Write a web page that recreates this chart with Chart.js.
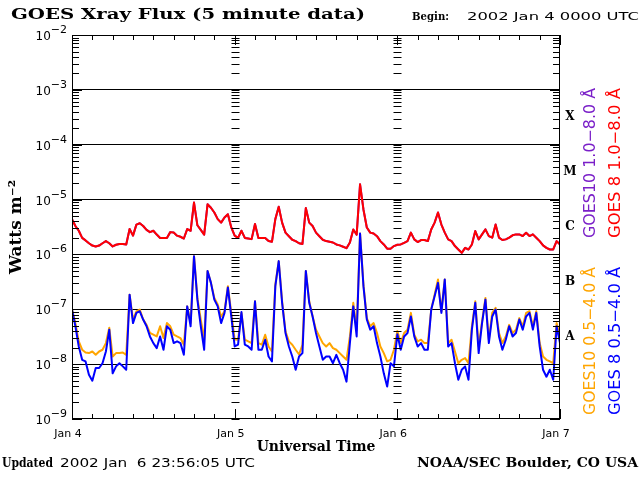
<!DOCTYPE html>
<html>
<head>
<meta charset="utf-8">
<script src="https://cdn.jsdelivr.net/npm/chart.js@4.4.1/dist/chart.umd.min.js"></script>
<style>
  html, body { margin: 0; padding: 0; background: #fff; }
  #wrap { position: relative; width: 640px; height: 480px; overflow: hidden; }
  #wrap canvas { position: absolute; left: 0; top: 0; }
  .txt { position: absolute; white-space: pre; color: #000; line-height: 1; transform-origin: 0 0; }
  .serif { font-family: "DejaVu Serif", serif; font-weight: bold; }
  .sans { font-family: "DejaVu Sans", sans-serif; }
</style>
</head>
<body>
<div id="wrap">
  <canvas id="xray" width="640" height="480"></canvas>
  <div class="txt serif" data-fit="354" style="left:11px; top:7px; font-size:15px;">GOES Xray Flux (5 minute data)</div>
  <div class="txt serif" data-fit="37" style="left:412px; top:11px; font-size:11px;">Begin:</div>
  <div class="txt sans" data-fit="172" style="left:467px; top:11px; font-size:11px;">2002 Jan 4 0000 UTC</div>
  <div class="txt serif" data-fit="51" style="left:2px; top:457px; font-size:12px;">Updated</div>
  <div class="txt sans" data-fit="195" style="left:60px; top:457px; font-size:12px;">2002 Jan  6 23:56:05 UTC</div>
  <div class="txt serif" data-fit="221" style="left:417px; top:457px; font-size:12px;">NOAA/SEC Boulder, CO USA</div>
</div>

<script>
// ---------------------------------------------------------
// Data: half-hourly readings (W m^-2) starting 2002 Jan 4 00 UTC
// ---------------------------------------------------------

const SAMPLE_STEP_HOURS = 0.5;

const dayLabels = ["Jan 4", "Jan 5", "Jan 6", "Jan 7"];
const decadeExponents = [-9, -8, -7, -6, -5, -4, -3, -2];
const flareClasses = ["A", "B", "C", "M", "X"];

// GOES 8, 1.0-8.0 A
const goes8Long = [
  4.4e-6, 3.3e-6, 2.7e-6, 2.0e-6, 1.8e-6, 1.6e-6, 1.45e-6, 1.4e-6, 1.45e-6, 1.6e-6, 1.75e-6, 1.6e-6,
  1.4e-6, 1.5e-6, 1.55e-6, 1.55e-6, 1.52e-6, 2.9e-6, 2.2e-6, 3.5e-6, 3.7e-6, 3.3e-6, 2.8e-6, 2.55e-6,
  2.7e-6, 2.3e-6, 2.0e-6, 2.0e-6, 2.0e-6, 2.55e-6, 2.5e-6, 2.2e-6, 2.1e-6, 1.95e-6, 2.9e-6, 2.7e-6,
  8.8e-6, 3.4e-6, 2.8e-6, 2.3e-6, 8.2e-6, 7.1e-6, 5.8e-6, 4.4e-6, 3.8e-6, 4.7e-6, 5.4e-6, 3.1e-6,
  2.2e-6, 2.0e-6, 2.7e-6, 2.0e-6, 1.95e-6, 1.9e-6, 3.6e-6, 2.0e-6, 2.0e-6, 2.0e-6, 1.75e-6, 1.7e-6,
  4.4e-6, 7.4e-6, 3.8e-6, 2.5e-6, 2.15e-6, 1.85e-6, 1.75e-6, 1.6e-6, 1.55e-6, 7.0e-6, 3.8e-6, 3.3e-6,
  2.5e-6, 2.15e-6, 1.85e-6, 1.75e-6, 1.7e-6, 1.65e-6, 1.52e-6, 1.46e-6, 1.38e-6, 1.3e-6, 1.65e-6, 2.85e-6,
  2.3e-6, 1.9e-5, 6.6e-6, 3.1e-6, 2.5e-6, 2.4e-6, 2.15e-6, 1.75e-6, 1.52e-6, 1.27e-6, 1.27e-6, 1.42e-6,
  1.5e-6, 1.52e-6, 1.63e-6, 1.75e-6, 2.5e-6, 1.88e-6, 1.68e-6, 1.83e-6, 1.83e-6, 1.75e-6, 2.85e-6, 3.8e-6,
  5.8e-6, 3.5e-6, 2.5e-6, 1.88e-6, 1.75e-6, 1.42e-6, 1.23e-6, 1.07e-6, 1.32e-6, 1.23e-6, 1.52e-6, 2.67e-6,
  1.88e-6, 2.32e-6, 2.86e-6, 2.16e-6, 2.02e-6, 3.5e-6, 2.02e-6, 1.83e-6, 1.88e-6, 2.02e-6, 2.23e-6, 2.32e-6,
  2.32e-6, 2.16e-6, 2.49e-6, 2.16e-6, 2.32e-6, 2.02e-6, 1.75e-6, 1.46e-6, 1.32e-6, 1.23e-6, 1.23e-6, 1.75e-6,
  1.52e-6,
];

// GOES10, 1.0-8.0 A - sits under the GOES 8 trace to within a pixel all along
const goes10Long = [...goes8Long];

// GOES 8, 0.5-4.0 A
const goes8Short = [
  9.9e-8, 4.9e-8, 2.1e-8, 1.2e-8, 1.12e-8, 6.4e-9, 5.0e-9, 8.5e-9, 8.5e-9, 1.04e-8, 1.7e-8, 4.25e-8,
  6.8e-9, 9.1e-9, 1.04e-8, 9.1e-9, 7.9e-9, 1.85e-7, 5.6e-8, 8.6e-8, 9.2e-8, 6.5e-8, 4.9e-8, 3.2e-8,
  2.42e-8, 1.96e-8, 3.2e-8, 1.83e-8, 4.9e-8, 4.25e-8, 2.42e-8, 2.6e-8, 2.42e-8, 1.48e-8, 1.13e-7, 4.9e-8,
  9.3e-7, 1.5e-7, 4.9e-8, 1.83e-8, 5.0e-7, 3.03e-7, 1.5e-7, 1.13e-7, 5.6e-8, 8.6e-8, 2.5e-7, 7.4e-8,
  2.1e-8, 2.26e-8, 8.9e-8, 2.26e-8, 2.1e-8, 1.83e-8, 1.4e-7, 1.83e-8, 1.83e-8, 2.79e-8, 1.38e-8, 1.12e-8,
  2.64e-7, 7.55e-7, 1.31e-7, 3.7e-8, 2.1e-8, 1.38e-8, 7.9e-9, 1.38e-8, 1.59e-8, 5.0e-7, 1.31e-7, 7.4e-8,
  3.7e-8, 2.1e-8, 1.2e-8, 1.38e-8, 1.38e-8, 1.04e-8, 1.48e-8, 1.04e-8, 7.9e-9, 4.8e-9, 2.42e-8, 1.13e-7,
  3.2e-8, 2.4e-6, 2.64e-7, 6.5e-8, 4.25e-8, 4.9e-8, 2.42e-8, 1.38e-8, 6.8e-9, 3.9e-9, 1.04e-8, 9.1e-9,
  3.5e-8, 1.83e-8, 3.2e-8, 3.7e-8, 7.4e-8, 3.2e-8, 2.1e-8, 2.42e-8, 1.83e-8, 1.83e-8, 9.9e-8, 1.73e-7,
  3.03e-7, 8.6e-8, 3.5e-7, 2.1e-8, 2.42e-8, 1.04e-8, 5.2e-9, 7.9e-9, 9.1e-9, 5.2e-9, 4.25e-8, 1.31e-7,
  1.59e-8, 5.6e-8, 1.5e-7, 2.42e-8, 7.4e-8, 9.9e-8, 3.2e-8, 1.83e-8, 2.79e-8, 4.9e-8, 3.2e-8, 3.7e-8,
  6.5e-8, 4.25e-8, 7.4e-8, 8.6e-8, 4.25e-8, 8.6e-8, 2.1e-8, 7.9e-9, 5.9e-9, 7.9e-9, 5.2e-9, 4.9e-8,
  2.42e-8,
];

// GOES10, 0.5-4.0 A
const goes10Short = [
  9.9e-8, 5.6e-8, 2.6e-8, 1.83e-8, 1.63e-8, 1.59e-8, 1.7e-8, 1.48e-8, 1.7e-8, 1.83e-8, 2.42e-8, 4.6e-8,
  1.38e-8, 1.59e-8, 1.59e-8, 1.63e-8, 1.48e-8, 1.85e-7, 6.5e-8, 9.2e-8, 9.9e-8, 6.5e-8, 5.2e-8, 3.7e-8,
  3.44e-8, 3.2e-8, 4.9e-8, 2.99e-8, 5.6e-8, 4.9e-8, 3.44e-8, 3.2e-8, 2.99e-8, 2.26e-8, 1.13e-7, 5.6e-8,
  9.3e-7, 1.61e-7, 6.5e-8, 2.79e-8, 5.0e-7, 3.03e-7, 1.61e-7, 1.22e-7, 7.4e-8, 9.2e-8, 2.64e-7, 8.6e-8,
  2.8e-8, 2.79e-8, 8.6e-8, 2.79e-8, 2.6e-8, 2.42e-8, 1.4e-7, 2.42e-8, 2.26e-8, 3.44e-8, 2.1e-8, 1.7e-8,
  2.83e-7, 7.55e-7, 1.4e-7, 3.96e-8, 2.6e-8, 2.26e-8, 1.83e-8, 1.5e-8, 2.26e-8, 5.0e-7, 1.4e-7, 7.4e-8,
  4.25e-8, 3.2e-8, 2.42e-8, 2.1e-8, 2.42e-8, 1.96e-8, 1.83e-8, 1.59e-8, 1.38e-8, 1.2e-8, 3.2e-8, 1.31e-7,
  4.25e-8, 2.4e-6, 2.83e-7, 6.9e-8, 4.9e-8, 5.6e-8, 3.7e-8, 2.1e-8, 1.59e-8, 1.12e-8, 1.2e-8, 1.83e-8,
  4.0e-8, 2.42e-8, 3.7e-8, 4.25e-8, 8.6e-8, 3.44e-8, 2.6e-8, 2.79e-8, 2.42e-8, 2.42e-8, 9.9e-8, 1.85e-7,
  3.5e-7, 9.2e-8, 3.5e-7, 2.42e-8, 2.79e-8, 1.7e-8, 1.04e-8, 1.2e-8, 1.29e-8, 1.04e-8, 4.9e-8, 1.4e-7,
  2.1e-8, 6.0e-8, 1.61e-7, 2.79e-8, 8.6e-8, 1.06e-7, 3.7e-8, 2.42e-8, 3.2e-8, 5.2e-8, 3.7e-8, 4.25e-8,
  6.9e-8, 4.9e-8, 8.6e-8, 9.2e-8, 4.9e-8, 9.2e-8, 2.42e-8, 1.38e-8, 1.2e-8, 1.12e-8, 1.04e-8, 5.6e-8,
  3.2e-8,
];

// ---------------------------------------------------------
// Page text: the plot's Hershey-style lettering runs wide, so
// stretch each label to the width it takes in the original
// ---------------------------------------------------------

document.querySelectorAll("[data-fit]").forEach((el) => {
  const w = el.getBoundingClientRect().width;
  if (w > 0) el.style.transform = `scaleX(${Number(el.dataset.fit) / w})`;
});

// ---------------------------------------------------------
// Chart
// ---------------------------------------------------------

const SANS = "DejaVu Sans, sans-serif";
const SERIF = "DejaVu Serif, serif";
const PURPLE = "#7a1fc8";

const toPoints = (series) => series.map((v, i) => ({ x: i * SAMPLE_STEP_HOURS, y: v }));

const isDecade = (v) => Math.abs(Math.log10(v) - Math.round(Math.log10(v))) < 1e-6;

// frame, inward ticks, decade labels and the right-hand key
const goesFrame = {
  id: "goesFrame",
  afterDraw(chart) {
    const { ctx, chartArea: a, scales: { x, y } } = chart;
    ctx.save();
    ctx.strokeStyle = "#000";
    ctx.lineWidth = 1;
    ctx.strokeRect(a.left + 0.5, a.top + 0.5, a.right - a.left - 1, a.bottom - a.top - 1);

    ctx.beginPath();
    const dayEdges = [24, 48].map((h) => Math.round(x.getPixelForValue(h)) + 0.5);
    for (let e = -9; e < -2; e++) {
      for (let m = 1; m <= 9; m++) {
        const py = Math.round(y.getPixelForValue(m * Math.pow(10, e))) + 0.5;
        const len = m === 1 ? 10 : 7;
        ctx.moveTo(a.left, py); ctx.lineTo(a.left + len, py);
        ctx.moveTo(a.right, py); ctx.lineTo(a.right - len, py);
        dayEdges.forEach((px) => { ctx.moveTo(px - 4, py); ctx.lineTo(px + 4, py); });
      }
    }
    for (let h = 0; h <= 72; h += 3) {
      const px = Math.round(x.getPixelForValue(h)) + 0.5;
      const len = h % 24 === 0 ? 10 : 5;
      ctx.moveTo(px, a.bottom); ctx.lineTo(px, a.bottom - len);
      ctx.moveTo(px, a.top); ctx.lineTo(px, a.top + len);
    }
    ctx.stroke();

    // 10^n labels
    ctx.fillStyle = "#000";
    ctx.textBaseline = "alphabetic";
    decadeExponents.forEach((e) => {
      const py = y.getPixelForValue(Math.pow(10, e));
      const sup = "\u2212" + Math.abs(e);
      ctx.font = "11px " + SANS;
      const supW = ctx.measureText(sup).width;
      const supX = 67 - supW;
      ctx.textAlign = "left";
      ctx.fillText(sup, supX, py - 2);
      ctx.font = "12px " + SANS;
      ctx.textAlign = "right";
      ctx.fillText("10", supX, py + 5);
    });

    // flare class letters in the middle of each decade
    ctx.font = "bold 12px " + SERIF;
    ctx.textAlign = "center";
    ctx.textBaseline = "middle";
    flareClasses.forEach((c, i) => {
      ctx.fillText(c, 570, y.getPixelForValue(Math.pow(10, -7.5 + i)));
    });

    // rotated key, read bottom to top
    ctx.font = "15px " + SANS;
    ctx.textAlign = "left";
    chart.data.datasets.forEach((ds) => {
      ctx.save();
      ctx.translate(ds.keyX, ds.keyBottom);
      ctx.rotate(-Math.PI / 2);
      ctx.scale(ds.keyLength / ctx.measureText(ds.label).width, 1);
      ctx.fillStyle = ds.borderColor;
      ctx.fillText(ds.label, 0, 0);
      ctx.restore();
    });
    ctx.restore();
  },
};

const line = { pointRadius: 0, tension: 0, fill: false, borderWidth: 2, borderJoinStyle: "round" };

new Chart(document.getElementById("xray").getContext("2d"), {
  type: "line",
  data: {
    datasets: [
      { ...line, label: "GOES 8 0.5\u22124.0 \u00c5", data: toPoints(goes8Short), borderColor: "#0000ff", order: 0, keyX: 616, keyBottom: 415, keyLength: 148 },
      { ...line, label: "GOES10 0.5\u22124.0 \u00c5", data: toPoints(goes10Short), borderColor: "#ffa500", order: 1, keyX: 591, keyBottom: 415, keyLength: 148 },
      { ...line, label: "GOES 8 1.0\u22128.0 \u00c5", data: toPoints(goes8Long), borderColor: "#ff0000", order: 2, keyX: 616, keyBottom: 238, keyLength: 150 },
      { ...line, label: "GOES10 1.0\u22128.0 \u00c5", data: toPoints(goes10Long), borderColor: PURPLE, order: 3, keyX: 591, keyBottom: 238, keyLength: 150 },
    ],
  },
  options: {
    responsive: false,
    devicePixelRatio: 1,
    animation: false,
    events: [],
    layout: { padding: { top: 35, right: 80, bottom: 24, left: 0 } },
    plugins: { legend: { display: false }, tooltip: { enabled: false } },
    scales: {
      x: {
        type: "linear",
        min: 0,
        max: 72,
        afterFit: (s) => { s.height = 37; },
        border: { display: false },
        grid: { display: false, drawTicks: false },
        ticks: {
          stepSize: 24,
          autoSkip: false,
          maxRotation: 0,
          padding: 9,
          labelOffset: -4,
          color: "#000",
          font: { family: SANS, size: 11 },
          callback: (v) => dayLabels[v / 24],
        },
        title: {
          display: true,
          text: "Universal Time",
          color: "#000",
          font: { family: SERIF, size: 14, weight: "bold" },
          padding: { top: 1, bottom: 0 },
        },
      },
      y: {
        type: "logarithmic",
        min: 1e-9,
        max: 1e-2,
        afterFit: (s) => { s.width = 72; },
        border: { display: false },
        grid: {
          drawTicks: false,
          lineWidth: 1,
          color: (c) => (c.tick && isDecade(c.tick.value) && c.tick.value > 2e-9 && c.tick.value < 5e-3 ? "#000" : "rgba(0,0,0,0)"),
        },
        ticks: { display: false },
        title: {
          display: true,
          text: "Watts m\u207b\u00b2",
          color: "#000",
          font: { family: SERIF, size: 17, weight: "bold" },
          padding: { top: 6, bottom: 0 },
        },
      },
    },
  },
  plugins: [goesFrame],
});
</script>
</body>
</html>
